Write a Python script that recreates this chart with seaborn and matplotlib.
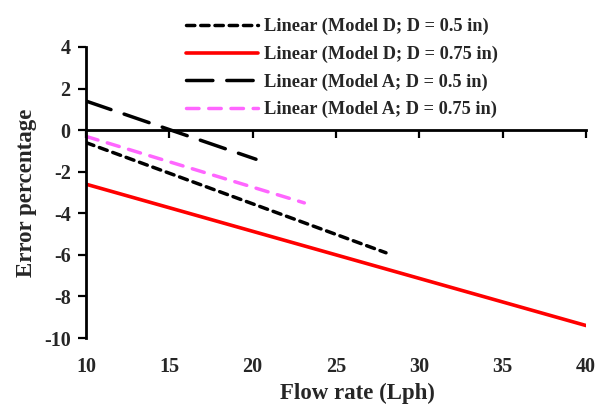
import matplotlib
matplotlib.use("Agg")
import matplotlib.pyplot as plt
import seaborn as sns
import pandas as pd

# Data (trend-line endpoints)
series_labels = [
    "Linear (Model D; D = 0.5 in)",
    "Linear (Model D; D = 0.75 in)",
    "Linear (Model A; D = 0.5 in)",
    "Linear (Model A; D = 0.75 in)",
]
x_d05 = [10, 28]
y_d05 = [-0.6, -5.9]
x_d075 = [10, 40]
y_d075 = [-2.6, -9.4]
x_a05 = [10, 20.2]
y_a05 = [1.4, -1.4]
x_a075 = [10, 23.1]
y_a075 = [-0.3, -3.5]

x_ticks = [10, 15, 20, 25, 30, 35, 40]
y_ticks = [-10, -8, -6, -4, -2, 0, 2, 4]

sns.set_style("white")
plt.rcParams["font.family"] = ["Liberation Serif", "DejaVu Serif"]
plt.rcParams["font.weight"] = "bold"

fig = plt.figure(figsize=(5.98, 4.05), dpi=100)
ax = fig.add_axes([86 / 598, 1 - 338 / 405, 500 / 598, 291 / 405])

styles = [
    dict(color="black", lw=2.5, linestyle=(0, (2.4, 1.7)), dash_capstyle="round"),
    dict(color="#FF0000", lw=2.6, linestyle="-"),
    dict(color="black", lw=2.5, linestyle=(0, (7.6, 4.0)), dash_capstyle="round"),
    dict(color="#FF66FF", lw=2.5, linestyle=(0, (3.6, 2.8)), dash_capstyle="round"),
]
xs = [x_d05, x_d075, x_a05, x_a075]
ys = [y_d05, y_d075, y_a05, y_a075]
for lab, x, y, st in zip(series_labels, xs, ys, styles):
    df = pd.DataFrame({"x": x, "y": y})
    sns.lineplot(data=df, x="x", y="y", ax=ax, label=lab, **st)

ax.set_xlim(10, 40)
ax.set_ylim(-10, 4)
ax.set_yticks(y_ticks)
ax.set_yticklabels([str(v) for v in y_ticks], fontsize=14.5, fontweight="bold")
ax.set_xticks(x_ticks)
ax.tick_params(axis="x", labelbottom=False, direction="out", length=6, width=1.6,
               bottom=True, color="black")
ax.tick_params(axis="y", direction="out", length=6, width=1.6, left=True, color="black",
               pad=5)

for s in ["top", "right"]:
    ax.spines[s].set_visible(False)
ax.spines["bottom"].set_position(("data", 0))
ax.spines["bottom"].set_linewidth(2)
ax.spines["left"].set_linewidth(2)
ax.spines["bottom"].set_color("black")
ax.spines["left"].set_color("black")

sec = ax.secondary_xaxis(0)
sec.set_xticks(x_ticks)
sec.set_xticklabels([str(v) for v in x_ticks], fontsize=14.5, fontweight="bold")
sec.tick_params(axis="x", length=0, pad=14)
sec.spines["bottom"].set_visible(False)

ax.set_xlabel("")
ax.set_ylabel("Error percentage", fontsize=16.5, fontweight="bold", labelpad=5)
fig.text(357 / 598, 1 - 393 / 405, "Flow rate (Lph)", ha="center", va="center",
         fontsize=16.5, fontweight="bold")

ax.get_legend().remove()
handles, labels = ax.get_legend_handles_labels()
fig.legend(handles, labels, loc="upper left", bbox_to_anchor=(0.29, 0.987),
           frameon=False, handlelength=3.9, handletextpad=0.33,
           labelspacing=0.56, borderpad=0.2, prop={"weight": "bold", "size": 13.2})

fig.savefig("out.png", dpi=100)
